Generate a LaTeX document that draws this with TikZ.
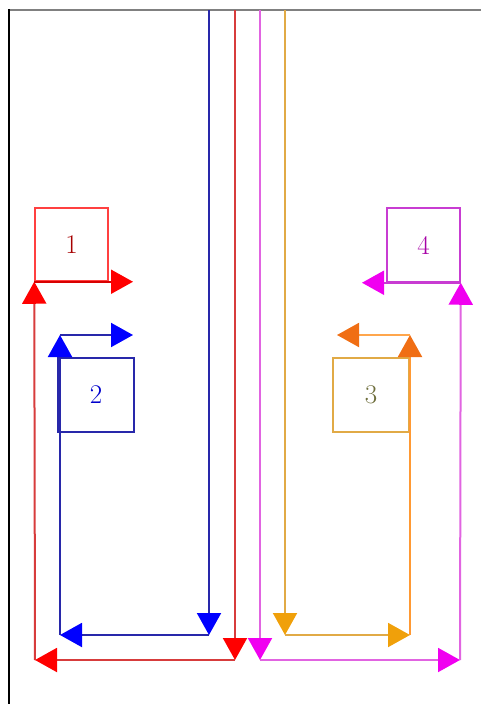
\documentclass[tikz,border=0pt]{standalone}
\usetikzlibrary{arrows.meta}
\definecolor{bline}{RGB}{40,40,170}
\definecolor{rline}{RGB}{215,60,60}
\definecolor{mline}{RGB}{225,100,225}
\definecolor{mtip}{RGB}{240,0,240}
\definecolor{mbox}{RGB}{200,60,210}
\definecolor{oline}{RGB}{225,170,70}
\definecolor{otip}{RGB}{240,160,10}
\definecolor{otipd}{RGB}{240,110,20}
\definecolor{olive}{RGB}{110,110,60}
\begin{document}
\begin{tikzpicture}[x=1pt,y=-1pt,
   box/.style={draw,line width=1.5pt,inner sep=0pt,font=\fontsize{27}{31}\selectfont},
   wire/.style={line width=2pt},
   tip/.style={-{Triangle[length=22pt,width=24pt,#1]}}]
   \useasboundingbox (0,0) rectangle (481,704);
   % frame
   \draw[gray,line width=2.5pt] (8,10) -- (481,10);
   \draw[black,line width=2pt] (9,9) -- (9,704);
   % boxes
   \node[box,draw=red!75,text=red!65!black,minimum width=73pt,minimum height=73pt] (one) at (71.5,244.5) {1};
   \node[box,draw=bline,text=blue!80!black,minimum width=76pt,minimum height=74pt] (two) at (96,395) {2};
   \node[box,draw=oline,text=olive,minimum width=76pt,minimum height=74pt] (three) at (371,395) {3};
   \node[box,draw=mbox,text=violet!70!magenta,minimum width=73pt,minimum height=74pt] (four) at (423.5,245) {4};
   % corners
   \coordinate (b0) at (209,10);  \coordinate (b1) at (209,635);
   \coordinate (b2) at (60,635);  \coordinate (b3) at (60,335);
   \coordinate (b4) at (133,335);
   \coordinate (r0) at (235,10);  \coordinate (r1) at (235,660);
   \coordinate (r2) at (35,660);  \coordinate (r4) at (133,0 |- one.south);
   \coordinate (m0) at (260,10);  \coordinate (m1) at (260,660);
   \coordinate (m2) at (460,660); \coordinate (m4) at (362,0 |- four.south);
   \coordinate (o0) at (285,10);  \coordinate (o1) at (285,635);
   \coordinate (o2) at (410,635); \coordinate (o3) at (410,335);
   \coordinate (o4) at (337,335);
   % blue
   \draw[wire,bline,tip=blue] (b0) -- (b1);
   \draw[wire,bline,tip=blue] (b1) -- (b2);
   \draw[wire,bline,tip=blue] (b2) -- (b3);
   \draw[wire,bline,tip=blue] (b3) -- (b4);
   % red
   \draw[wire,rline,tip=red] (r0) -- (r1);
   \draw[wire,rline,tip=red] (r1) -- (r2);
   \draw[wire,rline,tip=red] (r2) -- (one.south west);
   \draw[wire,red!85!black,tip=red] (one.south west) -- (r4);
   % magenta
   \draw[wire,mline,tip=mtip] (m0) -- (m1);
   \draw[wire,mline,tip=mtip] (m1) -- (m2);
   \draw[wire,mline,tip=mtip] (m2) -- (four.south east);
   \draw[wire,mbox,tip=mtip] (four.south east) -- (m4);
   % orange
   \draw[wire,oline,tip=otip] (o0) -- (o1);
   \draw[wire,oline,tip=otip] (o1) -- (o2);
   \draw[wire,orange!80,tip=otipd] (o2) -- (o3);
   \draw[wire,orange!70,tip=otipd] (o3) -- (o4);
\end{tikzpicture}
\end{document}
